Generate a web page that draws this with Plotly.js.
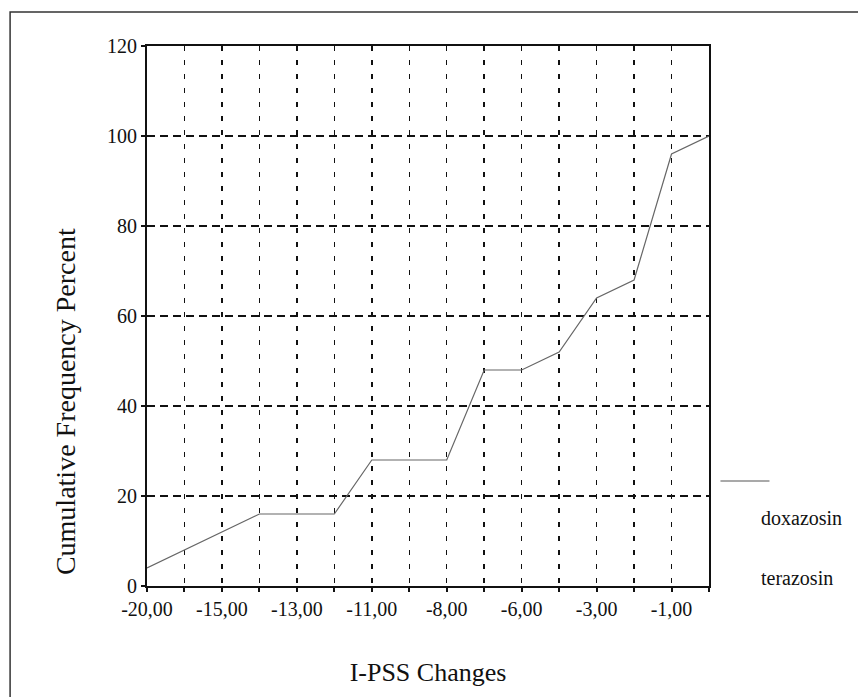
<!DOCTYPE html>
<html>
<head>
<meta charset="utf-8">
<script src="https://cdn.plot.ly/plotly-3.0.1.min.js"></script>
<style>html,body{margin:0;padding:0;background:#fff;}#chart{width:858px;height:697px;}</style>
</head>
<body>
<div id="chart"></div>
<script>
// I-PSS change categories (only every other label is printed on the axis)
const categories = ["-20,00","-16,00","-15,00","-14,00","-13,00","-12,00","-11,00","-9,00",
                    "-8,00","-7,00","-6,00","-4,00","-3,00","-2,00","-1,00","0,00"];
const shownLabels = ["-20,00","-15,00","-13,00","-11,00","-8,00","-6,00","-3,00","-1,00"];
// Cumulative frequency percent (doxazosin)
const doxazosin = [4, 8, 12, 16, 16, 16, 28, 28, 28, 48, 48, 52, 64, 68, 96, 100];
const yTicks = [0, 20, 40, 60, 80, 100, 120];
const seriesNames = ["doxazosin", "terazosin"];

const FONT = "Liberation Serif, Times New Roman, serif";
const tickText = categories.map(c => shownLabels.includes(c) ? c : "");

const trace = {
  type: "scatter", mode: "lines",
  x: categories, y: doxazosin, name: seriesNames[0],
  line: {color: "#666", width: 1.2},
  cliponaxis: true, showlegend: false
};

const layout = {
  width: 858, height: 697,
  margin: {l: 147, r: 148.5, t: 46, b: 111},
  paper_bgcolor: "#fff", plot_bgcolor: "#fff",
  font: {family: FONT, size: 21, color: "#111"},
  showlegend: false,
  xaxis: {
    type: "category", range: [0, categories.length - 1],
    tickvals: categories, ticktext: tickText,
    showgrid: true, gridcolor: "#111", gridwidth: 1.5, griddash: "5px,9px",
    showline: true, linecolor: "#111", linewidth: 2, mirror: true,
    ticks: "outside", ticklen: 4, tickwidth: 2, tickcolor: "#111",
    tickfont: {family: FONT, size: 20, color: "#111"},
    zeroline: false, fixedrange: true,
    title: {text: "I-PSS Changes", font: {family: FONT, size: 26, color: "#111"}, standoff: 44}
  },
  yaxis: {
    range: [0, 120], tickvals: yTicks,
    showgrid: true, gridcolor: "#111", gridwidth: 1.5, griddash: "8px,5px",
    showline: true, linecolor: "#111", linewidth: 2, mirror: true,
    ticks: "outside", ticklen: 4, tickwidth: 2, tickcolor: "#111",
    tickfont: {family: FONT, size: 20, color: "#111"},
    zeroline: false, fixedrange: true
  },
  shapes: [
    {type: "rect", xref: "paper", yref: "paper",
     x0: -0.2436, x1: 1.28, y0: -0.25, y1: 1.063,
     line: {color: "#333", width: 1.5}},
    {type: "line", xref: "paper", yref: "paper",
     x0: 1.0204, x1: 1.1076, y0: 0.1944, y1: 0.1944,
     line: {color: "#555", width: 1.2}}
  ],
  annotations: [
    {text: "Cumulative Frequency Percent", xref: "paper", yref: "paper",
     x: -0.1458, y: 0.3407, xanchor: "center", yanchor: "middle", textangle: -90,
     showarrow: false, font: {family: FONT, size: 28, color: "#111"}},
    {text: seriesNames[0], xref: "paper", yref: "paper",
     x: 1.0898, y: 0.1259, xanchor: "left", yanchor: "middle",
     showarrow: false, font: {family: FONT, size: 20, color: "#111"}},
    {text: seriesNames[1], xref: "paper", yref: "paper",
     x: 1.0898, y: 0.0148, xanchor: "left", yanchor: "middle",
     showarrow: false, font: {family: FONT, size: 20, color: "#111"}}
  ]
};

Plotly.newPlot("chart", [trace], layout, {displayModeBar: false, staticPlot: true});
</script>
</body>
</html>
